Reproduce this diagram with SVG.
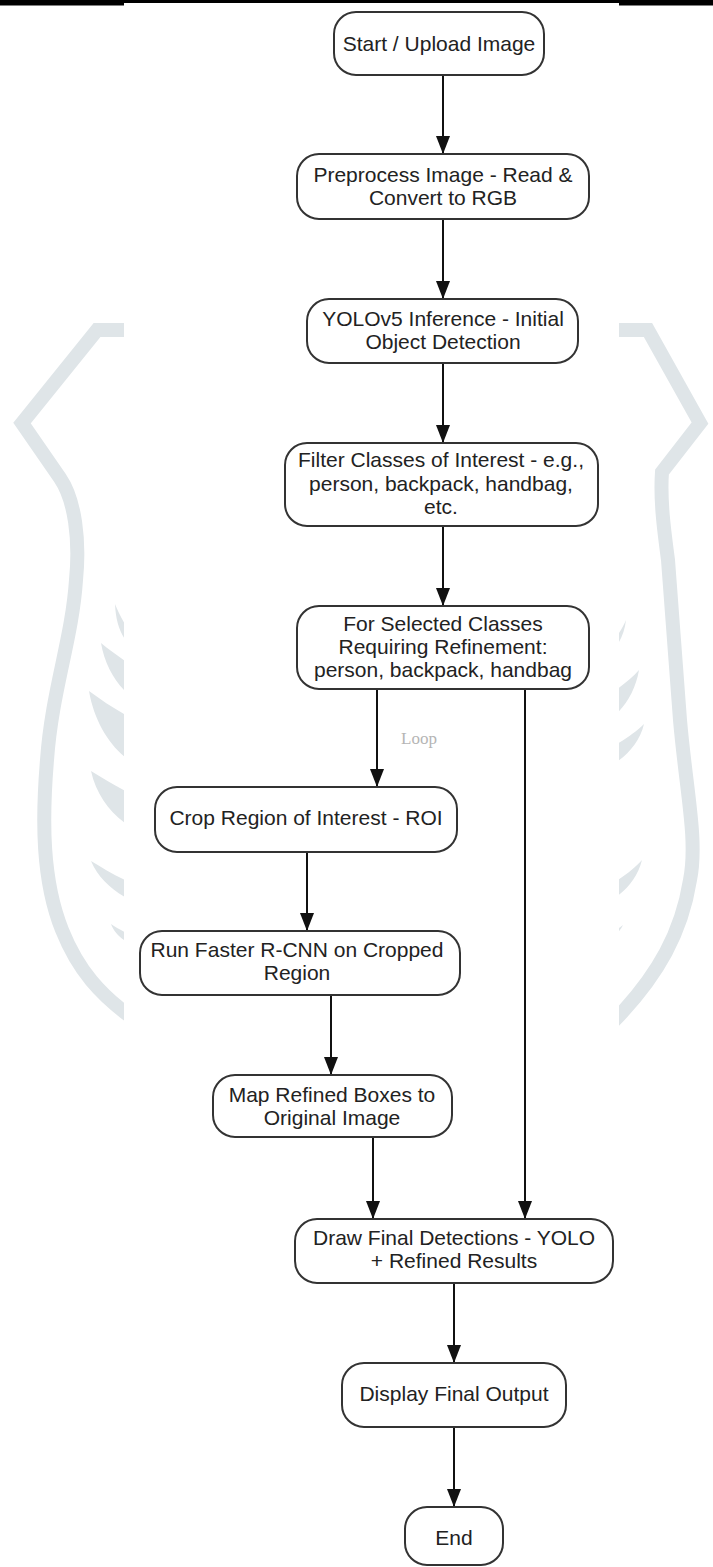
<svg xmlns="http://www.w3.org/2000/svg" width="713" height="1567" viewBox="0 0 713 1567">
<style>
.node rect{fill:#fff;stroke:#333;stroke-width:2}
.node text{font-family:"Liberation Sans",Arial,sans-serif;font-size:21px;fill:#222;text-anchor:middle}
.edge{stroke:#111;stroke-width:2;fill:none}
.wm{stroke:#dfe5e8;stroke-width:14;fill:none;stroke-linejoin:miter}
.leaf{fill:#dfe5e8}
.lbl{font-family:"Liberation Serif","DejaVu Serif",serif;font-size:17px;fill:#b5b5b5;text-anchor:middle}
</style>
<defs>
<marker id="ah" markerUnits="userSpaceOnUse" markerWidth="18" markerHeight="14" refX="18" refY="7" orient="auto">
<path d="M0,0 L18,7 L0,14 Z" fill="#111"/>
</marker>
<clipPath id="side">
<rect x="0" y="0" width="124" height="1567"/>
<rect x="619" y="0" width="94" height="1567"/>
</clipPath>
</defs>
<rect x="0" y="0" width="713" height="1567" fill="#fff"/>
<g id="watermark" clip-path="url(#side)">
<path class="wm" d="M140,330 L97,330 L22,423 L60,478 C75,500 80,540 76,580 C72,640 52,690 47,760 C42,820 42,880 62,930 C78,970 100,995 135,1020"/>
<path class="wm" d="M600,330 L648,330 L700,423 L662,472 C660,500 664,530 668,560 C672,620 676,660 680,720 C686,790 698,840 690,880 C682,930 660,975 610,1025"/>
<path class="leaf" d="M115,604 C119,614 126,628 136,640 L136,650 C124,642 116,628 115,604 Z"/>
<path class="leaf" d="M101,643 C112,652 126,662 136,668 L136,700 C120,690 105,668 101,643 Z"/>
<path class="leaf" d="M89,691 C104,702 122,714 136,720 L136,765 C114,752 95,726 89,691 Z"/>
<path class="leaf" d="M91,771 C106,780 122,790 136,796 L136,830 C114,818 97,798 91,771 Z"/>
<path class="leaf" d="M91,861 C104,869 121,879 136,885 L136,902 C117,895 99,880 91,861 Z"/>
<path class="leaf" d="M111,924 C118,929 128,934 136,937 L136,946 C125,942 115,935 111,924 Z"/>
<path class="leaf" d="M626,620 C622,630 615,640 606,646 L606,655 C616,650 624,637 626,620 Z"/>
<path class="leaf" d="M639,670 C630,680 617,690 606,696 L606,722 C621,713 635,694 639,670 Z"/>
<path class="leaf" d="M644,724 C634,734 618,744 606,750 L606,768 C623,760 639,745 644,724 Z"/>
<path class="leaf" d="M642,860 C633,870 618,881 606,887 L606,902 C622,896 637,880 642,860 Z"/>
<path class="leaf" d="M623,925 C618,929 612,932 606,935 L606,941 C613,938 620,932 623,925 Z"/>
</g>
<rect x="0" y="0" width="713" height="3" fill="#000"/>
<rect x="0" y="3" width="124" height="2.5" fill="#000"/>
<rect x="619" y="3" width="94" height="2.5" fill="#000"/>
<g id="connectors">
<line class="edge" x1="443" y1="75" x2="443" y2="154" marker-end="url(#ah)"/>
<line class="edge" x1="443" y1="219" x2="443" y2="299" marker-end="url(#ah)"/>
<line class="edge" x1="443" y1="363" x2="443" y2="443" marker-end="url(#ah)"/>
<line class="edge" x1="443" y1="526" x2="443" y2="606" marker-end="url(#ah)"/>
<line class="edge" x1="377" y1="689" x2="377" y2="787" marker-end="url(#ah)"/>
<line class="edge" x1="525" y1="689" x2="525" y2="1219" marker-end="url(#ah)"/>
<line class="edge" x1="307" y1="852" x2="307" y2="931" marker-end="url(#ah)"/>
<line class="edge" x1="331" y1="995" x2="331" y2="1075" marker-end="url(#ah)"/>
<line class="edge" x1="373" y1="1137" x2="373" y2="1219" marker-end="url(#ah)"/>
<line class="edge" x1="454" y1="1283" x2="454" y2="1363" marker-end="url(#ah)"/>
<line class="edge" x1="454" y1="1427" x2="454" y2="1507" marker-end="url(#ah)"/>
<text class="lbl" x="419" y="744">Loop</text>
</g>
<g id="n-start" class="node"><rect x="334" y="12" width="210" height="63" rx="22"/><text x="439" y="51">Start / Upload Image</text></g>
<g id="n-pre" class="node"><rect x="297" y="154" width="292" height="65" rx="22"/><text x="443" y="182">Preprocess Image - Read &amp;</text><text x="443" y="204.5">Convert to RGB</text></g>
<g id="n-yolo" class="node"><rect x="307" y="299" width="271" height="64" rx="22"/><text x="443" y="326">YOLOv5 Inference - Initial</text><text x="443" y="349">Object Detection</text></g>
<g id="n-filter" class="node"><rect x="285" y="443" width="313" height="83" rx="22"/><text x="441" y="467">Filter Classes of Interest - e.g.,</text><text x="441" y="490.5">person, backpack, handbag,</text><text x="441" y="514">etc.</text></g>
<g id="n-forsel" class="node"><rect x="297" y="606" width="292" height="83" rx="22"/><text x="443" y="631">For Selected Classes</text><text x="443" y="654">Requiring Refinement:</text><text x="443" y="677">person, backpack, handbag</text></g>
<g id="n-crop" class="node"><rect x="155" y="787" width="302" height="65" rx="22"/><text x="306" y="825">Crop Region of Interest - ROI</text></g>
<g id="n-run" class="node"><rect x="140" y="931" width="320" height="64" rx="22"/><text x="297" y="957">Run Faster R-CNN on Cropped</text><text x="297" y="980">Region</text></g>
<g id="n-map" class="node"><rect x="213" y="1075" width="239" height="62" rx="22"/><text x="332" y="1102">Map Refined Boxes to</text><text x="332" y="1125">Original Image</text></g>
<g id="n-draw" class="node"><rect x="295" y="1219" width="318" height="64" rx="22"/><text x="454" y="1245">Draw Final Detections - YOLO</text><text x="454" y="1268">+ Refined Results</text></g>
<g id="n-display" class="node"><rect x="342" y="1363" width="224" height="64" rx="22"/><text x="454" y="1401">Display Final Output</text></g>
<g id="n-end" class="node"><rect x="405" y="1507" width="98" height="58" rx="22"/><text x="454" y="1545">End</text></g>
</svg>
